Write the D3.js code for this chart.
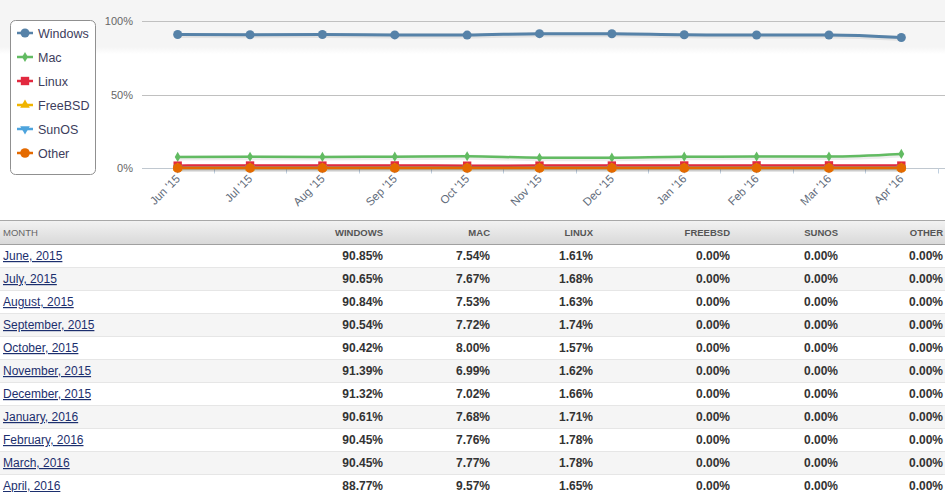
<!DOCTYPE html>
<html><head><meta charset="utf-8">
<script src="https://cdn.jsdelivr.net/npm/d3@7"></script>
<style>
html,body{margin:0;padding:0;background:#fff;overflow:hidden;}
svg{display:block;}
</style></head>
<body>
<svg id="c" width="945" height="492"></svg>
<script>
const months = ["June, 2015","July, 2015","August, 2015","September, 2015","October, 2015","November, 2015","December, 2015","January, 2016","February, 2016","March, 2016","April, 2016"];
const tickLabels = ["Jun '15","Jul '15","Aug '15","Sep '15","Oct '15","Nov '15","Dec '15","Jan '16","Feb '16","Mar '16","Apr '16"];
const seriesNames = ["Windows","Mac","Linux","FreeBSD","SunOS","Other"];
const windows = [90.85,90.65,90.84,90.54,90.42,91.39,91.32,90.61,90.45,90.45,88.77];
const mac = [7.54,7.67,7.53,7.72,8.00,6.99,7.02,7.68,7.76,7.77,9.57];
const linux = [1.61,1.68,1.63,1.74,1.57,1.62,1.66,1.71,1.78,1.78,1.65];
const freebsd = [0,0,0,0,0,0,0,0,0,0,0];
const sunos = [0,0,0,0,0,0,0,0,0,0,0];
const other = [0,0,0,0,0,0,0,0,0,0,0];
const yTicks = [0,50,100];
const colors = ["#5682a8","#62bb62","#e2293f","#f0b400","#4ea4dd","#e46a00"];
const symbols = [d3.symbolCircle,d3.symbolDiamond,d3.symbolSquare,d3.symbolTriangle,d3.symbolTriangle,d3.symbolCircle];
const symSizes = [64,30,70,40,40,72];
const allData = [windows,mac,linux,freebsd,sunos,other];

const svg = d3.select("#c");
const FONT = "'Liberation Sans', Arial, sans-serif";

const defs = svg.append("defs");
const fade = defs.append("linearGradient").attr("id","fade").attr("x1",0).attr("y1",0).attr("x2",0).attr("y2",1);
fade.append("stop").attr("offset","0").attr("stop-color","#f5f5f5");
fade.append("stop").attr("offset","1").attr("stop-color","#ffffff");
svg.append("rect").attr("x",0).attr("y",0).attr("width",945).attr("height",47).attr("fill","#f5f5f5");
svg.append("rect").attr("x",0).attr("y",47).attr("width",945).attr("height",7).attr("fill","url(#fade)");

const x = d3.scaleBand().domain(tickLabels).range([141.5,937.5]);
const y = d3.scaleLinear().domain([0,100]).range([168,21]);

svg.append("g").selectAll("line").data(yTicks.filter(d=>d>0)).join("line")
  .attr("x1",142).attr("x2",945).attr("y1",d=>Math.round(y(d))+0.5).attr("y2",d=>Math.round(y(d))+0.5)
  .attr("stroke","#c0c0c0").attr("stroke-width",1);

svg.append("g").selectAll("text").data(yTicks).join("text")
  .attr("x",133).attr("y",d=>y(d)+4).attr("text-anchor","end")
  .attr("font-family",FONT).attr("font-size",11).attr("fill","#666")
  .text(d=>d+"%");

const gx = svg.append("g").attr("transform","translate(0,168.5)");
gx.append("line").attr("x1",142).attr("x2",945).attr("y1",0).attr("y2",0).attr("stroke","#c0c8d0");
const bounds = tickLabels.map(t=>x(t)+x.bandwidth());
gx.selectAll("line.tk").data(bounds).join("line").attr("class","tk")
  .attr("x1",d=>Math.round(d)+0.5).attr("x2",d=>Math.round(d)+0.5).attr("y1",0).attr("y2",5)
  .attr("stroke","#c0d0e0");
gx.selectAll("text").data(tickLabels).join("text")
  .attr("transform",d=>`translate(${x(d)+x.bandwidth()/2+3},${11}) rotate(-45)`)
  .attr("text-anchor","end")
  .attr("font-family",FONT).attr("font-size",11.5).attr("fill","#5f6b7a")
  .text(d=>d);

const line = d3.line().x((d,i)=>x(tickLabels[i])+x.bandwidth()/2).y(d=>y(d)).curve(d3.curveMonotoneX);
allData.forEach((data,si)=>{
  const g = svg.append("g");
  g.append("path").attr("d",line(data)).attr("fill","none")
    .attr("stroke","rgba(0,0,0,0.07)").attr("stroke-width",5).attr("transform","translate(1,1)");
  g.append("path").attr("d",line(data)).attr("fill","none")
    .attr("stroke",colors[si]).attr("stroke-width",si===0?3:2.5);
  g.selectAll("path.m").data(data).join("path").attr("class","m")
    .attr("d",d3.symbol().type(symbols[si]).size(symSizes[si]))
    .attr("transform",(d,i)=>`translate(${x(tickLabels[i])+x.bandwidth()/2},${y(d)})${si===4?" rotate(180)":""}`)
    .attr("fill",colors[si]);
});

const lg = svg.append("g");
lg.append("rect").attr("x",10.5).attr("y",20.5).attr("width",85).attr("height",154).attr("rx",5)
  .attr("fill","#fff").attr("stroke","#909090");
seriesNames.forEach((n,i)=>{
  const cy = 33+24*i;
  lg.append("line").attr("x1",17).attr("x2",33).attr("y1",cy).attr("y2",cy).attr("stroke",colors[i]).attr("stroke-width",2.5);
  lg.append("path").attr("d",d3.symbol().type(symbols[i]).size(symSizes[i]))
    .attr("transform",`translate(25,${cy})${i===4?" rotate(180)":""}`).attr("fill",colors[i]);
  lg.append("text").attr("x",38).attr("y",cy+4.5).attr("font-family",FONT).attr("font-size",12.5)
    .attr("fill","#3d3d5c").text(n);
});

const hg = defs.append("linearGradient").attr("id","hg").attr("x1",0).attr("y1",0).attr("x2",0).attr("y2",1);
hg.append("stop").attr("offset","0").attr("stop-color","#f3f3f3");
hg.append("stop").attr("offset","1").attr("stop-color","#d9d9d9");
const tg = svg.append("g");
tg.append("rect").attr("x",0).attr("y",220).attr("width",945).attr("height",24).attr("fill","url(#hg)");
tg.append("line").attr("x1",0).attr("x2",945).attr("y1",220.5).attr("y2",220.5).attr("stroke","#a8a8a8");
tg.append("line").attr("x1",0).attr("x2",945).attr("y1",244.5).attr("y2",244.5).attr("stroke","#a0a0a0");

const colRight = [383,490,593,730,838,943];
const headers = ["WINDOWS","MAC","LINUX","FREEBSD","SUNOS","OTHER"];
tg.append("text").attr("x",3).attr("y",235.5).attr("font-family",FONT).attr("font-size",9.5)
  .attr("fill","#666").text("MONTH");
headers.forEach((h,i)=>{
  tg.append("text").attr("x",colRight[i]).attr("y",235.5).attr("text-anchor","end")
    .attr("font-family",FONT).attr("font-size",9.5).attr("font-weight","bold").attr("fill","#555").text(h);
});
months.forEach((m,r)=>{
  const top = 244.5+23*r;
  if(r%2===1) tg.append("rect").attr("x",0).attr("y",top+0.5).attr("width",945).attr("height",22.5).attr("fill","#f5f5f5");
  tg.append("line").attr("x1",0).attr("x2",945).attr("y1",top+23).attr("y2",top+23).attr("stroke","#e6e6e6");
  tg.append("text").attr("x",3).attr("y",top+15.5).attr("font-family",FONT).attr("font-size",12)
    .attr("fill","#1c2f6e").attr("text-decoration","underline").text(m);
  allData.forEach((data,si)=>{
    tg.append("text").attr("x",colRight[si]).attr("y",top+15.5).attr("text-anchor","end")
      .attr("font-family",FONT).attr("font-size",12).attr("font-weight","bold").attr("fill","#333")
      .text(data[r].toFixed(2)+"%");
  });
});
</script>
</body></html>
